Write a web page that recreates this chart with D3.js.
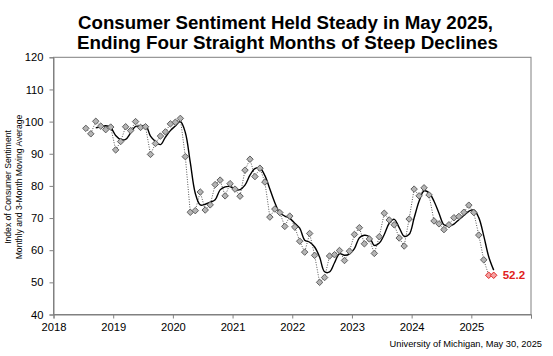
<!DOCTYPE html>
<html><head><meta charset="utf-8">
<script src="https://cdn.jsdelivr.net/npm/d3@7"></script>
<style>body{margin:0;background:#fff;}svg{display:block;font-family:"Liberation Sans",Arial,sans-serif;}</style>
</head><body><svg id="c" width="553" height="356"></svg>
<script>
// Monthly index values, Jul 2018 - May 2025
const startYear = 2018, startMonth = 7;
const monthly = [
  97.9, 96.2, 100.1, 98.6, 97.5, 98.3,
  91.2, 93.8, 98.4, 97.2, 100.0, 98.2, 98.4, 89.8, 93.2, 95.5, 96.8, 99.3,
  99.8, 101.0, 89.1, 71.8, 72.3, 78.1, 72.5, 74.1, 80.4, 81.8, 76.9, 80.7,
  79.0, 76.8, 84.9, 88.3, 82.9, 85.5, 81.2, 70.3, 72.8, 71.7, 67.4, 70.6,
  67.2, 62.8, 59.4, 65.2, 58.4, 50.0, 51.5, 58.2, 58.6, 59.9, 56.8, 59.7,
  64.9, 67.0, 62.0, 63.5, 59.0, 64.2, 71.5, 69.4, 67.9, 63.8, 61.3, 69.7,
  79.0, 76.9, 79.4, 77.2, 69.1, 68.2, 66.4, 67.9, 70.1, 70.5, 71.8, 74.0,
  71.7, 64.7, 57.0, 52.2, 52.2
];
// 3-month moving average, Sep 2018 - May 2025
const movingAvg = [
  98.07, 98.3, 98.73, 98.13,
  95.67, 94.43, 94.47, 96.47, 98.53, 98.47, 98.87, 95.47, 93.8, 92.83, 95.17, 97.2,
  98.63, 100.03, 96.63, 87.3, 77.73, 74.07, 74.3, 74.9, 75.67, 78.77, 79.7, 79.8,
  78.87, 78.83, 80.23, 83.33, 85.37, 85.57, 83.2, 79.0, 74.77, 71.6, 70.63, 69.9,
  68.4, 66.87, 63.13, 62.47, 61.0, 57.87, 53.3, 53.23, 56.1, 58.9, 58.43, 58.8,
  60.47, 63.87, 64.63, 64.17, 61.5, 62.23, 64.9, 68.37, 69.6, 67.03, 64.33, 64.93,
  70.0, 75.2, 78.43, 77.83, 75.23, 71.5, 67.9, 67.5, 68.13, 69.5, 70.8, 72.1,
  72.5, 70.13, 64.47, 57.97, 53.8
];
const xTicks = [2018, 2019, 2020, 2021, 2022, 2023, 2024, 2025, 2026];
const xTickLabels = ["2018", "2019", "2020", "2021", "2022", "2023", "2024", "2025", ""];
const yTicks = [40, 50, 60, 70, 80, 90, 100, 110, 120];
const highlightLabel = "52.2";
const titleLines = ["Consumer Sentiment Held Steady in May 2025,", "Ending Four Straight Months of Steep Declines"];
const yLabelLines = ["Index of Consumer Sentiment", "Monthly and 3-Month Moving Average"];
const source = "University of Michigan, May 30, 2025";

const svg = d3.select("#c");
const L = 53.5, R = 531, T = 57.3, B = 314.5;
const x = d3.scaleLinear().domain([2018, 2026]).range([L, R]);
const y = d3.scaleLinear().domain([40, 120]).range([B, T]);
const dateOf = i => startYear + (startMonth - 1 + i + 0.5) / 12;

const mPts = monthly.map((v, i) => ({t: dateOf(i), v}));
const maPts = movingAvg.map((v, i) => ({t: dateOf(i + 2), v}));

// title
const titleGeom = [{cx: 285.5, y: 28.5, w: 415}, {cx: 287.5, y: 49.3, w: 421}];
svg.append("g").selectAll("text").data(titleLines).join("text")
  .attr("x", (d, i) => titleGeom[i].cx).attr("y", (d, i) => titleGeom[i].y)
  .attr("text-anchor", "middle").attr("font-weight", "bold").attr("font-size", 18)
  .attr("textLength", (d, i) => titleGeom[i].w).attr("lengthAdjust", "spacingAndGlyphs")
  .attr("fill", "#000").text(d => d);

// frame
svg.append("rect").attr("x", L).attr("y", T).attr("width", R - L).attr("height", B - T)
  .attr("fill", "none").attr("stroke", "#808080").attr("stroke-width", 1);

// y axis
const ya = svg.append("g").attr("transform", `translate(${L},0)`)
  .call(d3.axisLeft(y).tickValues(yTicks).tickSize(4).tickPadding(6));
ya.select(".domain").attr("stroke", "#808080");
ya.selectAll(".tick line").attr("stroke", "#808080");
ya.selectAll("text").attr("font-size", 11.2).attr("fill", "#000").attr("font-family", "Liberation Sans, Arial, sans-serif");

// x axis
const xa = svg.append("g").attr("transform", `translate(0,${B})`)
  .call(d3.axisBottom(x).tickValues(xTicks).tickFormat((d, i) => xTickLabels[i]).tickSize(4).tickPadding(5));
xa.select(".domain").attr("stroke", "#808080");
xa.selectAll(".tick line").attr("stroke", "#808080");
xa.selectAll("text").attr("font-size", 11.2).attr("fill", "#000").attr("font-family", "Liberation Sans, Arial, sans-serif");

// y label
const yl = svg.append("text").attr("transform", "translate(0,187) rotate(-90)")
  .attr("text-anchor", "middle").attr("font-size", 8.6).attr("fill", "#000");
yLabelLines.forEach((s, i) => yl.append("tspan").attr("x", 0).attr("y", 11 + i * 10.5).text(s));

// monthly dotted line
const line = d3.line().x(d => x(d.t)).y(d => y(d.v));
svg.append("path").datum(mPts).attr("d", line).attr("fill", "none")
  .attr("stroke", "#555").attr("stroke-width", 1).attr("stroke-dasharray", "1,1.5");

// moving average smooth line
svg.append("path").datum(maPts).attr("d", line.curve(d3.curveCatmullRom.alpha(0.5)))
  .attr("fill", "none").attr("stroke", "#000").attr("stroke-width", 1.4);

// diamonds
const n = mPts.length;
svg.append("g").selectAll("path").data(mPts).join("path")
  .attr("d", d3.symbol().type(d3.symbolSquare).size(21))
  .attr("transform", d => `translate(${x(d.t)},${y(d.v)}) rotate(45)`)
  .attr("fill", (d, i) => i >= n - 2 ? "#f3a3a3" : "#b4b4b4")
  .attr("stroke", (d, i) => i >= n - 2 ? "#e02020" : "#5a5a5a")
  .attr("stroke-width", 0.9);

// highlight label
svg.append("text").attr("x", x(mPts[n - 1].t) + 9).attr("y", y(mPts[n - 1].v) + 4)
  .attr("font-size", 11.5).attr("font-weight", "bold").attr("fill", "#e0201c").text(highlightLabel);

// source
svg.append("text").attr("x", 542).attr("y", 347).attr("text-anchor", "end")
  .attr("font-size", 9.3).attr("fill", "#000").text(source);
</script></body></html>
